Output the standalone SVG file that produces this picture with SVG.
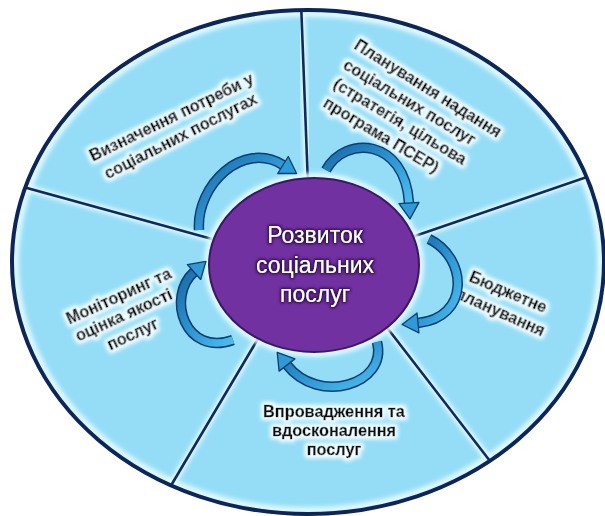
<svg xmlns="http://www.w3.org/2000/svg" width="605" height="516" viewBox="0 0 605 516">
<defs>
<style>
.lbl{font-family:"Liberation Sans",Arial,sans-serif;font-weight:bold;font-size:16.3px;fill:#0a0a0a;stroke:#0a0a0a;stroke-width:0.35;filter:url(#glow)}
.hubt{font-family:"Liberation Sans",Arial,sans-serif;font-size:23px;fill:#ffffff;text-anchor:middle;filter:url(#pglow)}
.div{stroke:#0f2a5c;stroke-width:2.6;fill:none}
.divg{stroke:#e6fbff;stroke-width:7;fill:none;filter:url(#soft)}
.ao{fill:none;stroke:#0c3e6e;stroke-width:10.5}
.ai{fill:none;stroke:url(#ag);stroke-width:7.5;marker-end:url(#ah)}
</style>
<filter id="glow" x="-20%" y="-40%" width="140%" height="180%">
<feMorphology in="SourceAlpha" operator="dilate" radius="1.6" result="d"/>
<feGaussianBlur in="d" stdDeviation="2" result="b"/>
<feFlood flood-color="#effcff"/>
<feComposite in2="b" operator="in" result="g"/>
<feMerge><feMergeNode in="g"/><feMergeNode in="g"/><feMergeNode in="SourceGraphic"/></feMerge>
</filter>
<filter id="pglow" x="-20%" y="-40%" width="140%" height="180%">
<feMorphology in="SourceAlpha" operator="dilate" radius="1" result="d"/>
<feGaussianBlur in="d" stdDeviation="1.8" result="b"/>
<feFlood flood-color="#2a0a45"/>
<feComposite in2="b" operator="in" result="g"/>
<feMerge><feMergeNode in="g"/><feMergeNode in="SourceGraphic"/></feMerge>
</filter>
<filter id="soft" x="-10%" y="-10%" width="120%" height="120%">
<feGaussianBlur stdDeviation="2"/>
</filter>
<linearGradient id="ag" x1="0" y1="0" x2="1" y2="1">
<stop offset="0" stop-color="#1a6aa8"/>
<stop offset="0.5" stop-color="#2f95d3"/>
<stop offset="1" stop-color="#4cbdf0"/>
</linearGradient>
<marker id="ah" markerUnits="userSpaceOnUse" markerWidth="22" markerHeight="26" viewBox="-2 -13 22 26" refX="0" refY="0" orient="auto">
<path d="M0,-10 L16,0 L0,10 z" fill="#2f9ad8" stroke="#0c3e6e" stroke-width="1.3" stroke-linejoin="round"/>
</marker>
<clipPath id="wheel">
<ellipse cx="308" cy="262" rx="296" ry="252"/>
</clipPath>
</defs>
<rect width="605" height="516" fill="#ffffff"/>
<g id="wheel-bg">
<ellipse cx="308" cy="262" rx="296" ry="252" fill="#95ddf7"/>
<g clip-path="url(#wheel)">
<ellipse cx="308" cy="262" rx="293" ry="249" fill="none" stroke="#dff8ff" stroke-width="8" filter="url(#soft)"/>
<line class="divg" x1="301" y1="2" x2="308" y2="185"/>
<line class="divg" x1="610" y1="169" x2="412" y2="237"/>
<line class="divg" x1="500" y1="474" x2="385" y2="325"/>
<line class="divg" x1="166" y1="494" x2="262" y2="332"/>
<line class="divg" x1="5" y1="182" x2="212" y2="239"/>
<line class="div" x1="301" y1="2" x2="308" y2="185"/>
<line class="div" x1="610" y1="169" x2="412" y2="237"/>
<line class="div" x1="500" y1="474" x2="385" y2="325"/>
<line class="div" x1="166" y1="494" x2="262" y2="332"/>
<line class="div" x1="5" y1="182" x2="212" y2="239"/>
</g>
<ellipse cx="308" cy="262" rx="296" ry="252" fill="none" stroke="#0d2657" stroke-width="4"/>
</g>
<g id="sector-needs">
<text class="lbl" text-anchor="middle" transform="translate(174,122) rotate(-26)">Визначення потреби у</text>
<text class="lbl" text-anchor="middle" transform="translate(183,141) rotate(-27)">соціальних послугах</text>
</g>
<g id="sector-planning">
<text class="lbl" transform="translate(353,48) rotate(32)">Планування надання</text>
<text class="lbl" transform="translate(342,68) rotate(31)">соціальних послуг</text>
<text class="lbl" transform="translate(332,87) rotate(31)">(стратегія, цільова</text>
<text class="lbl" transform="translate(322,106) rotate(31)">програма ПСЕР)</text>
</g>
<g id="sector-budget">
<text class="lbl" text-anchor="middle" transform="translate(506,297) rotate(23)">Бюджетне</text>
<text class="lbl" text-anchor="middle" transform="translate(498,317) rotate(24)">планування</text>
</g>
<g id="sector-implementation">
<text class="lbl" text-anchor="middle" x="334" y="417">Впровадження та</text>
<text class="lbl" text-anchor="middle" x="334" y="436">вдосконалення</text>
<text class="lbl" text-anchor="middle" x="334" y="455">послуг</text>
</g>
<g id="sector-monitoring">
<text class="lbl" text-anchor="middle" transform="translate(121,301) rotate(-24.5)">Моніторинг та</text>
<text class="lbl" text-anchor="middle" transform="translate(126,320) rotate(-24.5)">оцінка якості</text>
<text class="lbl" text-anchor="middle" transform="translate(135,339) rotate(-25)">послуг</text>
</g>
<g id="hub">
<ellipse cx="314" cy="265" rx="107" ry="89" fill="none" stroke="#e6fbff" stroke-width="6" filter="url(#soft)"/>
<ellipse cx="314" cy="265" rx="105" ry="87" fill="#7131a0" stroke="#3a1763" stroke-width="2"/>
<text class="hubt" x="315" y="243">Розвиток</text>
<text class="hubt" x="315" y="273">соціальних</text>
<text class="hubt" x="315" y="302">послуг</text>
</g>
<g id="arrows">
<path class="ao" d="M 199 230 C 196 185, 243 140, 283 165"/>
<path class="ai" d="M 199 230 C 196 185, 243 140, 283 165"/>
<path class="ao" d="M 326 170 C 345 135, 405 138, 409 203"/>
<path class="ai" d="M 326 170 C 345 135, 405 138, 409 203"/>
<path class="ao" d="M 429 239 C 468 258, 470 318, 418 323"/>
<path class="ai" d="M 429 239 C 468 258, 470 318, 418 323"/>
<path class="ao" d="M 377 342 C 388 385, 318 405, 287 365"/>
<path class="ai" d="M 377 342 C 388 385, 318 405, 287 365"/>
<path class="ao" d="M 233 340 C 185 357, 166 297, 194 272"/>
<path class="ai" d="M 233 340 C 185 357, 166 297, 194 272"/>
</g>
</svg>
